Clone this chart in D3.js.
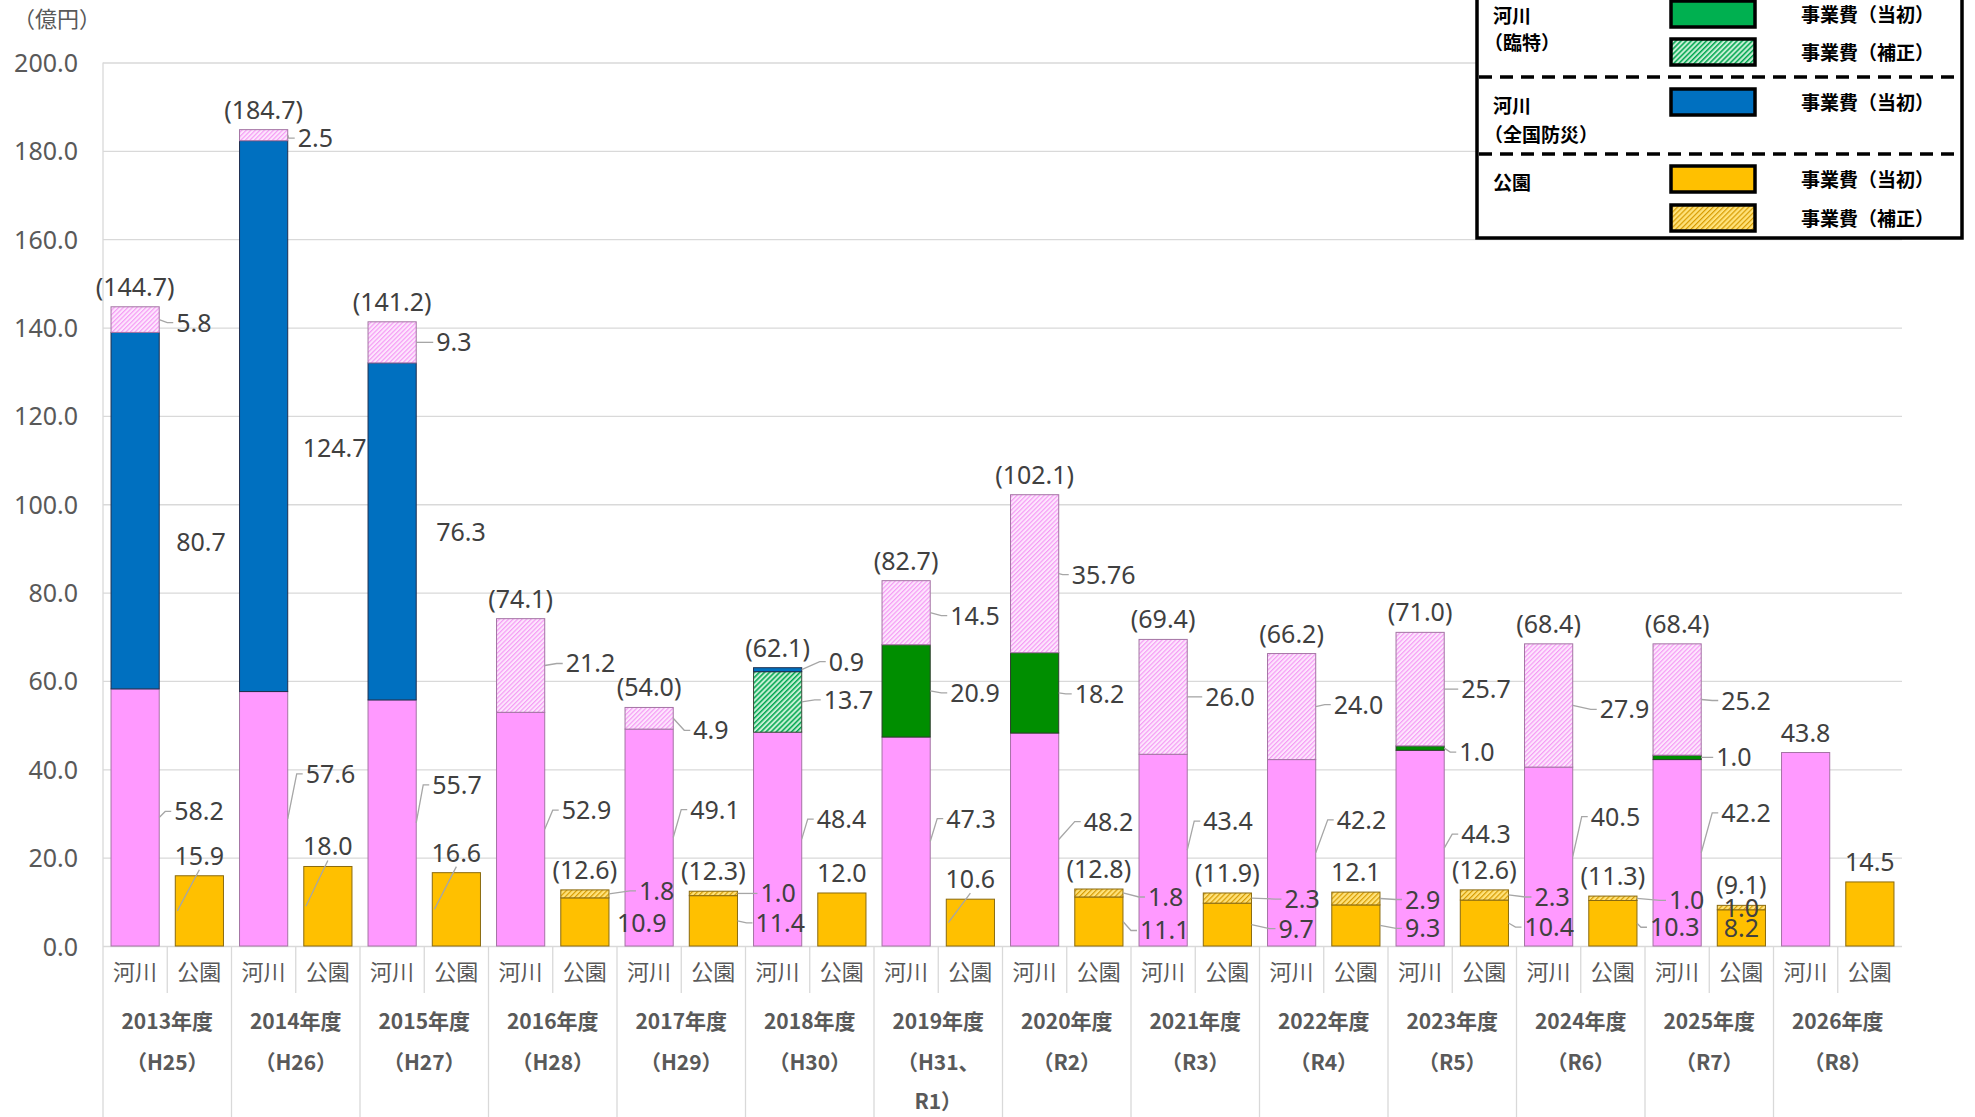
<!DOCTYPE html>
<html>
<head>
<meta charset="utf-8">
<title>河川・公園 事業費の推移</title>
<script src="https://cdn.jsdelivr.net/npm/d3@7/dist/d3.min.js"></script>
<style>
  body { margin: 0; background: #fff; }
  svg { display: block; }
  .num { font-family: "Noto Sans", "Open Sans", sans-serif; }
  .jp { font-family: "Noto Sans CJK JP", "Noto Sans", sans-serif; }
</style>
</head>
<body>
<svg id="chart" width="1975" height="1117"></svg>
<script>

// ---- data (億円) ----
const years = ["2013年度","2014年度","2015年度","2016年度","2017年度","2018年度","2019年度",
               "2020年度","2021年度","2022年度","2023年度","2024年度","2025年度","2026年度"];
const eras = [["（H25）"],["（H26）"],["（H27）"],["（H28）"],["（H29）"],["（H30）"],["（H31、","R1）"],
              ["（R2）"],["（R3）"],["（R4）"],["（R5）"],["（R6）"],["（R7）"],["（R8）"]];
const kinds = ["河川","公園"];

// 河川
const riverBase       = [58.2, 57.6, 55.7, 52.9, 49.1, 48.4, 47.3, 48.2, 43.4, 42.2, 44.3, 40.5, 42.2, 43.8];
const riverRinji      = [0, 0, 0, 0, 0, 0, 20.9, 18.2, 0, 0, 1.0, 0, 1.0, 0];
const riverRinjiHosei = [0, 0, 0, 0, 0, 13.7, 0, 0, 0, 0, 0, 0, 0, 0];
const riverBousai     = [80.7, 124.7, 76.3, 0, 0, 0.9, 0, 0, 0, 0, 0, 0, 0, 0];
const riverHosei      = [5.8, 2.5, 9.3, 21.2, 4.9, 0, 14.5, 35.76, 26.0, 24.0, 25.7, 27.9, 25.2, 0];
// 公園
const parkBase  = [15.9, 18.0, 16.6, 10.9, 11.4, 12.0, 10.6, 11.1, 9.7, 9.3, 10.4, 10.3, 8.2, 14.5];
const parkHosei = [0, 0, 0, 1.8, 1.0, 0, 0, 1.8, 2.3, 2.9, 2.3, 1.0, 1.0, 0];

// labels above the bars
const riverTopText = ["(144.7)","(184.7)","(141.2)","(74.1)","(54.0)","(62.1)","(82.7)",
                      "(102.1)","(69.4)","(66.2)","(71.0)","(68.4)","(68.4)","43.8"];
const parkTopText  = ["15.9","18.0","16.6","(12.6)","(12.3)","12.0","10.6",
                      "(12.8)","(11.9)","12.1","(12.6)","(11.3)","(9.1)","14.5"];

const yTicks = [0, 20, 40, 60, 80, 100, 120, 140, 160, 180, 200];

// ---- layout ----
const W = 1975, H = 1117;
const plotL = 103, plotR = 1902, plotT = 62.5, zeroY = 946;

// label nudges: [dx from bar right edge, dy from segment middle, leader?] (pixels)
const nudge = {
  "0|base":[15,-6], "0|bousai":[17,31,0], "0|hosei":[17,3],
  "1|base":[18,-45], "1|bousai":[15,32,0], "1|hosei":[10,3],
  "2|base":[16,-38], "2|bousai":[20,1,0], "2|hosei":[20,0],
  "3|base":[17,-19], "3|hosei":[21,-2],
  "4|base":[17,-28], "4|hosei":[20,12],
  "5|base":[15,-20], "5|rinjiHosei":[22,-2], "5|bousai":[27,-8],
  "6|base":[16,-23], "6|rinji":[20,2], "6|hosei":[20,3],
  "7|base":[25,-18], "7|rinji":[16,1], "7|hosei":[13,1],
  "8|base":[16,-29], "8|hosei":[18,0],
  "9|base":[21,-33], "9|hosei":[18,-2],
  "10|base":[17,-14], "10|rinji":[15,4], "10|hosei":[17,0],
  "11|base":[18,-40], "11|hosei":[27,4],
  "12|base":[20,-40], "12|rinji":[15,0], "12|hosei":[20,1],
  "3|pbase":[8,1,0], "3|phosei":[30,-3],
  "4|pbase":[18,2], "4|phosei":[23,0],
  "7|pbase":[17,9], "7|phosei":[25,4],
  "8|pbase":[27,4], "8|phosei":[33,1],
  "9|pbase":[25,3], "9|phosei":[25,1],
  "10|pbase":[16,4], "10|phosei":[26,2],
  "11|pbase":[13,4], "11|phosei":[32,2],
  "12|pbase":"in", "12|phosei":"in"
};
// 公園 single-value labels that keep a leader line into the bar
const parkTopLeader = [1,1,1,0,0,0,1,0,0,0,0,0,0,0];

const svg = d3.select("#chart");
const defs = svg.append("defs");

function hatch(id, bg, fg, sw, step) {
  const p = defs.append("pattern").attr("id", id)
    .attr("patternUnits", "userSpaceOnUse").attr("width", step).attr("height", step)
    .attr("patternTransform", "rotate(45)");
  p.append("rect").attr("width", step).attr("height", step).attr("fill", bg);
  p.append("rect").attr("width", sw).attr("height", step).attr("fill", fg);
}
hatch("hPink", "#fde6fd", "#f59cf5", 1.2, 3.2);
hatch("hGreen", "#c6efd4", "#00a650", 1.5, 3.6);
hatch("hYellow", "#ffe27a", "#d79b00", 1.2, 3.6);

const x0 = d3.scaleBand().domain(years).range([plotL, plotR]).padding(0);
const x1 = d3.scaleBand().domain(kinds).range([0, x0.bandwidth()])
  .paddingInner(0.25).paddingOuter(0.125);
const y = d3.scaleLinear().domain([0, 200]).range([zeroY, plotT]);

// grid + y axis
const yAxis = d3.axisLeft(y).tickValues(yTicks).tickFormat(d3.format(".1f"))
  .tickSize(-(plotR - plotL)).tickPadding(25);
const ga = svg.append("g").attr("transform", `translate(${plotL},0)`).call(yAxis);
ga.select(".domain").remove();
ga.selectAll(".tick line").attr("stroke", "#d9d9d9").attr("stroke-width", 1.3);
ga.selectAll(".tick text").attr("class", "num").attr("fill", "#595959")
  .attr("font-size", 25).attr("dy", "0.36em");

svg.append("text").attr("class", "jp").attr("x", 13).attr("y", 19).attr("dy", "0.36em")
  .attr("font-size", 22).attr("fill", "#595959").text("（億円）");

// category axis separators
svg.append("line").attr("x1", plotL).attr("x2", plotL).attr("y1", plotT).attr("y2", H)
  .attr("stroke", "#d9d9d9").attr("stroke-width", 1.3);
years.forEach((yr, i) => {
  const gx = x0(yr);
  if (i > 0) svg.append("line").attr("x1", gx).attr("x2", gx).attr("y1", zeroY).attr("y2", H)
    .attr("stroke", "#d9d9d9").attr("stroke-width", 1.3);
  const mx = gx + x0.bandwidth() / 2;
  svg.append("line").attr("x1", mx).attr("x2", mx).attr("y1", zeroY).attr("y2", 993)
    .attr("stroke", "#d9d9d9").attr("stroke-width", 1.3);
  kinds.forEach(k => {
    svg.append("text").attr("class", "jp").attr("x", gx + x1(k) + x1.bandwidth() / 2)
      .attr("y", 972).attr("dy", "0.36em").attr("text-anchor", "middle")
      .attr("font-size", 22).attr("fill", "#595959").text(k);
  });
  svg.append("text").attr("class", "jp").attr("x", mx).attr("y", 1021).attr("dy", "0.36em")
    .attr("text-anchor", "middle").attr("font-size", 21).attr("font-weight", 700)
    .attr("fill", "#595959").text(yr);
  eras[i].forEach((t, j) => {
    svg.append("text").attr("class", "jp").attr("x", mx).attr("y", 1062 + j * 39).attr("dy", "0.36em")
      .attr("text-anchor", "middle").attr("font-size", 21).attr("font-weight", 700)
      .attr("fill", "#595959").text(t);
  });
});

// stacks
const riverKeys = ["base", "rinji", "rinjiHosei", "bousai", "hosei"];
const parkKeys = ["pbase", "phosei"];
const riverRows = years.map((yr, i) => ({ year: yr, base: riverBase[i], rinji: riverRinji[i],
  rinjiHosei: riverRinjiHosei[i], bousai: riverBousai[i], hosei: riverHosei[i] }));
const parkRows = years.map((yr, i) => ({ year: yr, pbase: parkBase[i], phosei: parkHosei[i] }));
const riverStack = d3.stack().keys(riverKeys)(riverRows);
const parkStack = d3.stack().keys(parkKeys)(parkRows);

const fills = { base: "#ff99ff", rinji: "#008e00", rinjiHosei: "url(#hGreen)", bousai: "#0070c0",
  hosei: "url(#hPink)", pbase: "#ffc000", phosei: "url(#hYellow)" };
const strokes = { base: "#a474a4", rinji: "#2d3d2d", rinjiHosei: "#3d4d3d", bousai: "#1f2f4f",
  hosei: "#a474a4", pbase: "#8a6a10", phosei: "#8a6a10" };

const gBars = svg.append("g");
function drawStack(stack, kind) {
  stack.forEach(layer => {
    gBars.selectAll(null).data(layer.filter(d => d.data[layer.key] > 0)).join("rect")
      .attr("x", d => x0(d.data.year) + x1(kind))
      .attr("width", x1.bandwidth())
      .attr("y", d => y(d[1]))
      .attr("height", d => y(d[0]) - y(d[1]))
      .attr("fill", fills[layer.key])
      .attr("stroke", strokes[layer.key]).attr("stroke-width", 1);
  });
}
drawStack(riverStack, "河川");
drawStack(parkStack, "公園");

// data labels
const fmt = v => Math.abs(v * 10 - Math.round(v * 10)) < 1e-9 ? v.toFixed(1) : String(v);
const gLab = svg.append("g");
const labelColor = "#404040", leaderColor = "#a6a6a6";

function segLabels(stack, kind, counts) {
  stack.forEach(layer => {
    layer.forEach((d, i) => {
      const v = d.data[layer.key];
      if (v <= 0 || counts[i] < 2) return;
      const yr = d.data.year;
      const bx = x0(yr) + x1(kind), bw = x1.bandwidth();
      const mid = (y(d[0]) + y(d[1])) / 2;
      const n = nudge[i + "|" + layer.key] || [17, 0];
      if (n === "in") {
        gLab.append("text").attr("class", "num").attr("x", bx + bw / 2).attr("y", mid)
          .attr("dy", "0.36em").attr("text-anchor", "middle").attr("font-size", 25)
          .attr("fill", labelColor).text(fmt(v));
        return;
      }
      const lx = bx + bw + n[0], ly = mid + n[1];
      if (n[2] !== 0) {
        gLab.append("polyline")
          .attr("points", [[lx - 3, ly], [lx - 9, ly], [bx + bw, mid]].map(p => p.join(",")).join(" "))
          .attr("fill", "none").attr("stroke", leaderColor).attr("stroke-width", 1.3);
      }
      gLab.append("text").attr("class", "num").attr("x", lx).attr("y", ly).attr("dy", "0.36em")
        .attr("font-size", 25).attr("fill", labelColor).text(fmt(v));
    });
  });
}
const riverCounts = riverRows.map(r => riverKeys.filter(k => r[k] > 0).length);
const parkCounts = parkRows.map(r => parkKeys.filter(k => r[k] > 0).length);
segLabels(riverStack, "河川", riverCounts);
segLabels(parkStack, "公園", parkCounts);

function topLabels(stack, kind, texts, leaders) {
  const last = stack[stack.length - 1];
  last.forEach((d, i) => {
    const cx = x0(d.data.year) + x1(kind) + x1.bandwidth() / 2;
    const ty = y(d[1]) - 20;
    if (leaders && leaders[i]) {
      const base = stack[0][i];
      gLab.append("line").attr("x1", cx).attr("y1", ty + 14)
        .attr("x2", cx - 22).attr("y2", (y(base[0]) + y(base[1])) / 2)
        .attr("stroke", leaderColor).attr("stroke-width", 1.3);
    }
    gLab.append("text").attr("class", "num").attr("x", cx).attr("y", ty).attr("dy", "0.36em")
      .attr("text-anchor", "middle").attr("font-size", 25).attr("fill", labelColor).text(texts[i]);
  });
}
topLabels(riverStack, "河川", riverTopText, null);
topLabels(parkStack, "公園", parkTopText, parkTopLeader);

// ---- legend ----
const lg = svg.append("g").attr("class", "jp").attr("font-weight", 700).attr("font-size", 19);
lg.append("rect").attr("x", 1477).attr("y", -4).attr("width", 485).attr("height", 242)
  .attr("fill", "#fff").attr("stroke", "#000").attr("stroke-width", 3.5);
[77, 154].forEach(ly => lg.append("line").attr("x1", 1479).attr("x2", 1960).attr("y1", ly).attr("y2", ly)
  .attr("stroke", "#000").attr("stroke-width", 3.5).attr("stroke-dasharray", "13 8"));
const legendGroups = [
  { lines: [["河川", 1493, 16], ["（臨特）", 1484, 43]] },
  { lines: [["河川", 1493, 106], ["（全国防災）", 1484, 135]] },
  { lines: [["公園", 1493, 183]] }
];
legendGroups.forEach(g => g.lines.forEach(l => lg.append("text").attr("x", l[1]).attr("y", l[2])
  .attr("dy", "0.36em").attr("fill", "#000").text(l[0])));
const legendItems = [
  { fill: "#00b050", y: 1, label: "事業費（当初）" },
  { fill: "url(#hGreen)", y: 39, label: "事業費（補正）" },
  { fill: "#0070c0", y: 89, label: "事業費（当初）" },
  { fill: "#ffc000", y: 166, label: "事業費（当初）" },
  { fill: "url(#hYellow)", y: 205, label: "事業費（補正）" }
];
legendItems.forEach(it => {
  lg.append("rect").attr("x", 1671).attr("y", it.y).attr("width", 84).attr("height", 26)
    .attr("fill", it.fill).attr("stroke", "#000").attr("stroke-width", 3.5);
  lg.append("text").attr("x", 1801).attr("y", it.y + 14).attr("dy", "0.36em")
    .attr("fill", "#000").text(it.label);
});
</script>
</body>
</html>
